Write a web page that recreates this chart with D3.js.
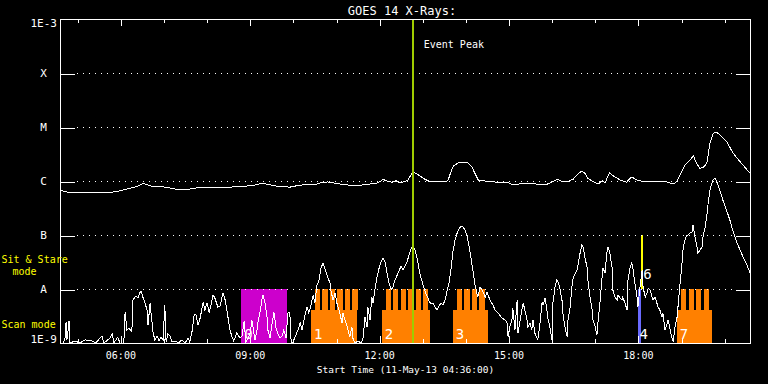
<!DOCTYPE html>
<html><head><meta charset="utf-8">
<script src="https://cdn.jsdelivr.net/npm/d3@7"></script>
<style>html,body{margin:0;padding:0;background:#000;overflow:hidden}</style>
</head><body><svg id="c" width="768" height="384"></svg>
<script>
// ---- Data (UT decimal hours on 11-May-2013, flux in W/m^2) ----
const longTime = [4.60,4.72,4.95,5.41,5.76,5.95,6.15,6.34,6.46,6.53,6.69,7.04,7.27,7.61,7.85,8.54,8.89,9.12,9.28,9.59,9.93,10.17,10.51,10.63,10.81,11.09,11.44,11.79,11.97,12.09,12.18,12.30,12.39,12.48,12.60,12.67,12.76,12.83,12.95,13.06,13.18,13.55,13.60,13.68,13.72,13.83,13.92,14.04,14.15,14.22,14.30,14.46,14.57,14.73,14.97,15.08,15.22,15.34,15.57,15.66,15.89,16.03,16.13,16.24,16.36,16.50,16.61,16.70,16.77,16.84,16.96,17.08,17.17,17.24,17.34,17.43,17.59,17.74,17.80,17.86,17.98,18.17,18.51,18.67,18.82,18.90,19.02,19.09,19.17,19.29,19.36,19.44,19.52,19.60,19.67,19.75,19.83,19.90,20.06,20.21,20.37,20.60];
const longFlux = [6.8e-7,6.3e-7,6.0e-7,6.0e-7,6.1e-7,6.5e-7,7.1e-7,7.7e-7,8.4e-7,9.1e-7,8.1e-7,7.7e-7,7.1e-7,7.1e-7,7.6e-7,7.7e-7,8.0e-7,8.4e-7,9.1e-7,8.1e-7,7.7e-7,8.4e-7,8.6e-7,9.2e-7,9.6e-7,8.8e-7,8.1e-7,8.8e-7,9.2e-7,1.07e-6,1.0e-6,9.5e-7,1.01e-6,9.3e-7,9.8e-7,1.04e-6,1.39e-6,1.42e-6,1.24e-6,1.08e-6,9.7e-7,9.7e-7,1.04e-6,1.60e-6,1.90e-6,2.15e-6,2.22e-6,2.22e-6,1.84e-6,1.39e-6,1.04e-6,1.0e-6,9.8e-7,9.5e-7,9.5e-7,8.7e-7,8.7e-7,9.1e-7,9.1e-7,8.7e-7,8.7e-7,9.7e-7,1.08e-6,9.7e-7,9.7e-7,1.08e-6,1.35e-6,1.53e-6,1.39e-6,1.12e-6,9.7e-7,8.8e-7,1.01e-6,9.3e-7,1.42e-6,1.24e-6,1.04e-6,9.5e-7,1.08e-6,1.19e-6,1.04e-6,9.6e-7,9.6e-7,9.6e-7,8.8e-7,9.7e-7,1.49e-6,1.98e-6,2.28e-6,2.90e-6,2.13e-6,1.72e-6,1.79e-6,2.13e-6,4.99e-6,7.64e-6,7.98e-6,7.11e-6,5.34e-6,3.26e-6,2.28e-6,1.39e-6];

const shortTime = [4.60,4.67,4.72,4.74,4.76,4.79,4.81,4.83,4.95,5.06,5.18,5.34,5.43,5.57,5.62,5.76,5.81,5.85,5.94,5.99,6.08,6.11,6.15,6.20,6.25,6.27,6.29,6.36,6.41,6.46,6.48,6.52,6.57,6.62,6.64,6.69,6.71,6.76,6.80,6.85,6.90,6.94,6.99,7.03,7.06,7.10,7.15,7.20,7.27,7.34,7.43,7.50,7.57,7.61,7.66,7.71,7.75,7.80,7.85,7.92,7.96,8.01,8.06,8.10,8.15,8.19,8.26,8.31,8.38,8.43,8.47,8.54,8.59,8.63,8.70,8.77,8.82,8.87,8.91,8.96,9.01,9.05,9.12,9.17,9.19,9.24,9.28,9.31,9.35,9.40,9.42,9.47,9.52,9.56,9.61,9.66,9.70,9.75,9.79,9.84,9.89,9.93,9.96,10.00,10.07,10.12,10.17,10.21,10.28,10.33,10.37,10.42,10.47,10.51,10.56,10.61,10.65,10.70,10.74,10.79,10.86,10.88,10.93,10.98,11.02,11.07,11.14,11.16,11.21,11.25,11.28,11.32,11.37,11.39,11.44,11.51,11.58,11.63,11.67,11.72,11.74,11.79,11.83,11.86,11.90,11.95,12.00,12.04,12.09,12.14,12.18,12.23,12.28,12.32,12.37,12.41,12.46,12.51,12.55,12.60,12.65,12.69,12.74,12.79,12.83,12.88,12.92,12.97,13.02,13.06,13.11,13.16,13.20,13.25,13.30,13.34,13.39,13.43,13.48,13.53,13.57,13.62,13.67,13.71,13.76,13.81,13.85,13.90,13.94,13.99,14.04,14.08,14.13,14.18,14.22,14.27,14.29,14.34,14.39,14.46,14.50,14.57,14.64,14.69,14.76,14.85,14.92,14.97,14.99,15.03,15.08,15.10,15.15,15.20,15.22,15.27,15.31,15.34,15.38,15.43,15.45,15.50,15.54,15.57,15.61,15.66,15.68,15.73,15.78,15.80,15.85,15.89,15.92,15.96,16.01,16.03,16.08,16.12,16.15,16.19,16.24,16.26,16.31,16.36,16.38,16.43,16.47,16.50,16.59,16.66,16.70,16.73,16.77,16.82,16.84,16.89,16.94,16.96,17.01,17.05,17.08,17.12,17.17,17.19,17.24,17.28,17.31,17.35,17.40,17.42,17.47,17.52,17.54,17.59,17.63,17.65,17.70,17.75,17.77,17.82,17.86,17.89,17.93,17.98,18.00,18.05,18.10,18.12,18.17,18.21,18.24,18.28,18.33,18.35,18.40,18.44,18.47,18.51,18.56,18.58,18.63,18.68,18.70,18.75,18.79,18.82,18.86,18.91,18.93,18.98,19.03,19.05,19.09,19.14,19.16,19.21,19.25,19.28,19.32,19.37,19.39,19.44,19.49,19.51,19.56,19.60,19.63,19.67,19.74,19.79,19.83,19.90,19.97,20.07,20.14,20.21,20.25,20.30,20.37,20.44,20.53,20.60];
const shortFlux = [1.0e-9,1.0e-9,1.24e-9,2.45e-9,1.14e-9,1.74e-9,2.55e-9,1.0e-9,1.09e-9,1.0e-9,1.14e-9,1.09e-9,1.0e-9,1.35e-9,1.0e-9,1.24e-9,1.47e-9,1.0e-9,1.29e-9,1.0e-9,1.0e-9,3.75e-9,1.74e-9,1.90e-9,1.67e-9,1.98e-9,6.25e-9,7.42e-9,6.81e-9,8.80e-9,9.18e-9,7.11e-9,5.50e-9,4.08e-9,2.15e-9,5.50e-9,3.59e-9,1.53e-9,1.14e-9,1.35e-9,1.09e-9,1.29e-9,1.14e-9,5.05e-9,1.04e-9,1.47e-9,1.35e-9,1.04e-9,1.09e-9,1.0e-9,1.14e-9,1.0e-9,1.24e-9,1.04e-9,1.60e-9,3.30e-9,3.44e-9,2.15e-9,2.90e-9,5.74e-9,4.08e-9,5.50e-9,3.59e-9,5.05e-9,7.74e-9,6.81e-9,4.64e-9,4.84e-9,8.43e-9,6.25e-9,4.08e-9,1.74e-9,1.29e-9,1.09e-9,1.53e-9,1.24e-9,1.35e-9,2.55e-9,1.04e-9,1.24e-9,1.53e-9,2.67e-9,1.14e-9,1.74e-9,2.45e-9,3.75e-9,6.25e-9,7.74e-9,5.74e-9,3.03e-9,1.74e-9,1.24e-9,2.35e-9,3.75e-9,1.90e-9,1.41e-9,1.24e-9,1.35e-9,1.74e-9,1.24e-9,3.75e-9,3.59e-9,1.04e-9,1.0e-9,1.41e-9,1.74e-9,2.35e-9,1.74e-9,3.30e-9,4.64e-9,3.59e-9,5.05e-9,7.74e-9,5.50e-9,1.19e-8,1.47e-8,2.45e-8,3.03e-8,2.45e-8,1.82e-8,1.29e-8,9.58e-9,6.25e-9,8.43e-9,5.50e-9,4.08e-9,2.35e-9,3.59e-9,2.67e-9,2.15e-9,1.74e-9,1.29e-9,1.98e-9,1.24e-9,1.0e-9,1.09e-9,1.0e-9,1.24e-9,3.03e-9,1.98e-9,4.64e-9,2.67e-9,7.11e-9,5.50e-9,9.58e-9,1.67e-8,2.45e-8,3.16e-8,3.75e-8,3.16e-8,2.06e-8,1.29e-8,9.58e-9,1.09e-8,1.47e-8,1.74e-8,2.15e-8,2.67e-8,2.25e-8,2.67e-8,3.16e-8,4.26e-8,5.50e-8,6.25e-8,5.27e-8,3.75e-8,2.45e-8,1.60e-8,1.19e-8,9.18e-9,7.42e-9,5.99e-9,5.27e-9,5.50e-9,4.64e-9,4.08e-9,4.84e-9,5.50e-9,5.05e-9,6.25e-9,8.80e-9,1.29e-8,2.45e-8,4.84e-8,8.08e-8,1.09e-7,1.29e-7,1.47e-7,1.41e-7,1.24e-7,9.58e-8,6.52e-8,3.75e-8,2.06e-8,1.24e-8,8.08e-9,7.11e-9,1.09e-8,9.58e-9,7.11e-9,8.80e-9,6.25e-9,5.05e-9,4.08e-9,3.59e-9,2.90e-9,2.67e-9,2.35e-9,1.29e-9,1.98e-9,2.67e-9,4.45e-9,1.74e-9,6.25e-9,1.53e-9,2.67e-9,4.08e-9,5.50e-9,4.08e-9,2.67e-9,1.98e-9,2.35e-9,1.74e-9,2.67e-9,1.53e-9,1.24e-9,1.14e-9,2.35e-9,5.74e-9,5.05e-9,6.81e-9,4.08e-9,2.67e-9,1.98e-9,1.14e-9,5.50e-9,1.09e-8,1.47e-8,1.35e-8,1.04e-8,6.25e-9,3.59e-9,1.98e-9,1.29e-9,2.67e-9,4.64e-9,1.09e-8,1.60e-8,2.25e-8,4.64e-8,6.52e-8,5.99e-8,3.91e-8,2.55e-8,1.47e-8,7.11e-9,4.08e-9,2.67e-9,1.98e-9,1.41e-9,2.67e-9,5.50e-9,1.67e-8,2.45e-8,1.98e-8,4.64e-8,5.99e-8,4.64e-8,2.55e-8,9.58e-9,7.11e-9,6.25e-9,7.74e-9,6.81e-9,6.25e-9,7.11e-9,5.50e-9,4.08e-9,1.47e-8,2.55e-8,3.03e-8,2.25e-8,1.29e-8,7.11e-9,4.64e-9,1.09e-8,2.25e-8,1.09e-8,7.11e-9,8.43e-9,1.04e-8,9.58e-9,7.11e-9,6.25e-9,7.11e-9,5.50e-9,4.64e-9,4.08e-9,3.03e-9,3.59e-9,1.74e-9,2.35e-9,2.67e-9,1.74e-9,1.24e-9,1.04e-9,1.98e-9,3.03e-9,4.64e-9,1.29e-8,3.44e-8,5.74e-8,8.08e-8,1.0e-7,1.0e-7,1.09e-7,1.09e-7,1.53e-7,9.58e-8,5.99e-8,4.64e-8,5.27e-8,5.99e-8,9.18e-8,1.41e-7,2.35e-7,3.91e-7,6.81e-7,1.04e-6,1.13e-6,9.58e-7,6.81e-7,4.45e-7,2.67e-7,1.82e-7,1.14e-7,9.18e-8,7.11e-8,5.27e-8,3.91e-8,2.78e-8,1.98e-8];

const yTickValues = [1e-9,1e-8,1e-7,1e-6,1e-5,1e-4,1e-3];
const yTickLabels = ["1E-9","A","B","C","M","X","1E-3"];
const xMajorHours = [6,9,12,15,18];
const xMajorLabels = ["06:00","09:00","12:00","15:00","18:00"];
const xMinorHours = [5,7,8,10,11,13,14,16,17,19,20];

// observation blocks (hours)
const rasterLabels = ["0","1","2","3","7"];
const rasterStart  = [8.80,10.42,12.06,13.71,18.90];
const rasterEnd    = [9.86,11.49,13.18,14.52,19.71];
const rasterTeethStart = [8.80,10.51,12.15,13.80,19.00];
const rasterTeeth  = [0,6,6,4,4];
const rasterKind   = ["sit","scan","scan","scan","scan"];
const teethPeriod = 0.174, teethWidth = 0.123;
const scanLowTop = 4.08e-9;

const stareLabels = ["4","6"];
const stareTime = [18.04,18.10];
const stareLow  = [1e-9,1e-8];
const stareHigh = [1e-8,1e-7];
const stareColor = ["#6a6aff","#ffff00"];

const eventPeak = 12.78;

// ---- Drawing ----
const svg = d3.select("#c");
svg.append("rect").attr("width",768).attr("height",384).attr("fill","#000");
const day = Date.UTC(2013,4,11);
const toDate = h => new Date(day + h*3600000);
const x = d3.scaleUtc().domain([toDate(4.6), toDate(20.6)]).range([60,750]);
const y = d3.scaleLog().domain([1e-9,1e-3]).range([343,19]);
const mono = "'DejaVu Sans Mono','Liberation Mono',monospace";

// blocks
const gb = svg.append("g").attr("shape-rendering","crispEdges");
rasterStart.forEach((s,i)=>{
  if (rasterKind[i]==="sit") {
    gb.append("rect").attr("x",x(toDate(s))).attr("width",x(toDate(rasterEnd[i]))-x(toDate(s)))
      .attr("y",y(1e-8)).attr("height",y(1e-9)-y(1e-8)).attr("fill","#cc00cc");
  } else {
    gb.append("rect").attr("x",x(toDate(s))).attr("width",x(toDate(rasterEnd[i]))-x(toDate(s)))
      .attr("y",y(scanLowTop)).attr("height",y(1e-9)-y(scanLowTop)).attr("fill","#ff8000");
    d3.range(rasterTeeth[i]).forEach(k=>{
      const t0 = rasterTeethStart[i]+k*teethPeriod;
      gb.append("rect").attr("x",x(toDate(t0))).attr("width",x(toDate(t0+teethWidth))-x(toDate(t0)))
        .attr("y",y(1e-8)).attr("height",y(scanLowTop)-y(1e-8)).attr("fill","#ff8000");
    });
  }
});
// sit & stare bars
stareTime.forEach((t,i)=>{
  const w = i===0?3.5:2.5;
  gb.append("rect").attr("x",x(toDate(t))-w/2).attr("width",w)
    .attr("y",y(stareHigh[i])).attr("height",y(stareLow[i])-y(stareHigh[i])).attr("fill",stareColor[i]);
});

// grid dotted lines
const gg = svg.append("g").attr("shape-rendering","crispEdges");
yTickValues.slice(1,6).forEach(v=>{
  gg.append("line").attr("x1",77).attr("x2",736).attr("y1",Math.round(y(v))+0.5).attr("y2",Math.round(y(v))+0.5)
    .attr("stroke","#fff").attr("stroke-width",1).attr("stroke-dasharray","1 5");
});

// curves
const line = d3.line().x(d=>x(toDate(d[0]))).y(d=>y(d[1]));
svg.append("path").datum(longTime.map((t,i)=>[t,longFlux[i]])).attr("d",line)
  .attr("fill","none").attr("stroke","#fff").attr("stroke-width",1).attr("shape-rendering","crispEdges");
svg.append("path").datum(shortTime.map((t,i)=>[t,shortFlux[i]])).attr("d",line)
  .attr("fill","none").attr("stroke","#fff").attr("stroke-width",1).attr("shape-rendering","crispEdges");

// event peak line
svg.append("rect").attr("x",x(toDate(eventPeak))-1).attr("width",2).attr("y",19).attr("height",324)
  .attr("fill","#9fcc00").attr("shape-rendering","crispEdges");
svg.append("text").attr("x",x(toDate(eventPeak))+11).attr("y",47.5).text("Event Peak")
  .attr("fill","#fff").attr("font-family",mono).attr("font-size",10);

// axes
const ga = svg.append("g").attr("shape-rendering","crispEdges");
const styleAxis = g => { g.select(".domain").remove(); g.selectAll("line").attr("stroke","#fff"); g.selectAll("text").remove(); };
ga.append("g").attr("transform","translate(0.5,19)").call(d3.axisBottom(x).tickValues(xMajorHours.map(toDate)).tickSize(7).tickFormat("")).call(styleAxis);
ga.append("g").attr("transform","translate(0.5,19)").call(d3.axisBottom(x).tickValues(xMinorHours.map(toDate)).tickSize(4).tickFormat("")).call(styleAxis);
ga.append("g").attr("transform","translate(0.5,343)").call(d3.axisTop(x).tickValues(xMajorHours.map(toDate)).tickSize(7).tickFormat("")).call(styleAxis);
ga.append("g").attr("transform","translate(0.5,343)").call(d3.axisTop(x).tickValues(xMinorHours.map(toDate)).tickSize(4).tickFormat("")).call(styleAxis);
ga.append("g").attr("transform","translate(60,0.5)").call(d3.axisRight(y).tickValues(yTickValues.slice(1,6)).tickSize(15).tickFormat("")).call(styleAxis);
ga.append("g").attr("transform","translate(750,0.5)").call(d3.axisLeft(y).tickValues(yTickValues.slice(1,6)).tickSize(14).tickFormat("")).call(styleAxis);
ga.append("rect").attr("x",60.5).attr("y",19.5).attr("width",690).attr("height",324)
  .attr("fill","none").attr("stroke","#fff").attr("stroke-width",1);

// x tick labels
const xl = svg.append("g").attr("transform","translate(0,343)")
  .call(d3.axisBottom(x).tickValues(xMajorHours.map(toDate)).tickSize(0).tickPadding(16)
  .tickFormat((d,i)=>xMajorLabels[i]));
xl.select(".domain").remove();
xl.selectAll("text").attr("fill","#fff").attr("font-family",mono).attr("font-size",10).attr("dy",0).attr("y",16);

// y tick labels
const yl = svg.append("g");
yTickValues.forEach((v,i)=>{
  const lab = yTickLabels[i];
  const t = yl.append("text").text(lab).attr("fill","#fff").attr("font-family",mono).attr("font-size",11);
  if (i===0) t.attr("x",57).attr("y",y(v)).attr("text-anchor","end");
  else if (i===6) t.attr("x",57).attr("y",y(v)+8).attr("text-anchor","end");
  else t.attr("x",43.5).attr("y",y(v)+4).attr("text-anchor","middle");
});

// title & axis label
svg.append("text").attr("x",402).attr("y",14.5).attr("text-anchor","middle").text("GOES 14 X-Rays:")
  .attr("fill","#fff").attr("font-family",mono).attr("font-size",12);
svg.append("text").attr("x",405.5).attr("y",372.5).attr("text-anchor","middle").text("Start Time (11-May-13 04:36:00)")
  .attr("fill","#fff").attr("font-family",mono).attr("font-size",9.5);

// mode labels
const yellow = "#ffff00";
svg.append("text").attr("x",1.5).attr("y",263).text("Sit & Stare").attr("fill",yellow).attr("font-family",mono).attr("font-size",10);
svg.append("text").attr("x",24.5).attr("y",275).attr("text-anchor","middle").text("mode").attr("fill",yellow).attr("font-family",mono).attr("font-size",10);
svg.append("text").attr("x",1.5).attr("y",328.3).text("Scan mode").attr("fill",yellow).attr("font-family",mono).attr("font-size",10);

// block labels
rasterStart.forEach((s,i)=>{
  svg.append("text").attr("x",x(toDate(s))+3).attr("y",338.5).text(rasterLabels[i])
    .attr("fill","#fff").attr("font-family",mono).attr("font-size",14);
});
svg.append("text").attr("x",x(toDate(stareTime[0]))).attr("y",338.5).text(stareLabels[0])
  .attr("fill","#fff").attr("font-family",mono).attr("font-size",14);
svg.append("text").attr("x",x(toDate(stareTime[1]))+1).attr("y",278.5).text(stareLabels[1])
  .attr("fill","#fff").attr("font-family",mono).attr("font-size",14);
</script></body></html>
